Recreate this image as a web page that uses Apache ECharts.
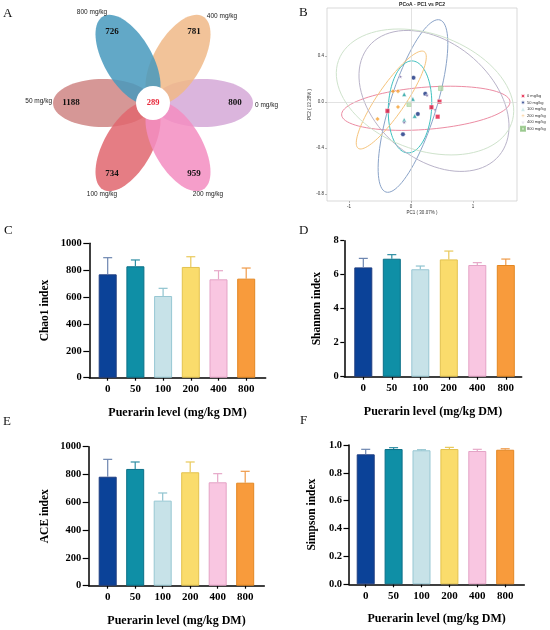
<!DOCTYPE html>
<html lang="en">
<head>
<meta charset="UTF-8">
<title>Puerarin level - diversity</title>
<script src="https://cdn.jsdelivr.net/npm/echarts@6/dist/echarts.min.js"></script>
<style>
    html, body { margin: 0; padding: 0; background: #fff; }
    #main { width: 550px; height: 630px; }
</style>
</head>
<body>
<div id="main"></div>
<script>
    // ---------- data ----------
    var levels = ['0', '50', '100', '200', '400', '800'];
    var groupNames = ['0 mg/kg', '50 mg/kg', '100 mg/kg', '200 mg/kg', '400 mg/kg', '800 mg/kg'];

    // flower diagram (A): unique OTUs per group and the shared core
    var petalAngles = [0, 180, 120, 60, -60, -120];
    var petalCounts = [800, 1188, 734, 959, 781, 726];
    var coreCount = 289;

    // alpha diversity (C-F): mean and sd per level
    var chaoMean = [769, 829, 608, 824, 732, 737];
    var chaoSd = [124, 47, 57, 76, 64, 79];
    var shannonMean = [6.43, 6.94, 6.32, 6.90, 6.57, 6.57];
    var shannonSd = [0.53, 0.24, 0.19, 0.49, 0.14, 0.35];
    var aceMean = [784, 840, 612, 816, 744, 741];
    var aceSd = [125, 50, 55, 74, 62, 82];
    var simpsonMean = [0.933, 0.971, 0.962, 0.971, 0.957, 0.966];
    var simpsonSd = [0.036, 0.010, 0.004, 0.012, 0.012, 0.007];

    // PCoA (B): sample scores [PC1, PC2]
    var pcoa0 = [[-0.38, -0.078], [0.33, -0.046], [0.46, 0.003], [0.43, -0.128]];
    var pcoa50 = [[0.04, 0.211], [0.23, 0.072], [0.11, -0.104], [-0.13, -0.281]];
    var pcoa100 = [[-0.11, 0.067], [0.03, 0.026], [0.06, -0.122], [-0.11, -0.157]];
    var pcoa200 = [[-0.29, 0.093], [-0.21, 0.093], [-0.21, -0.043], [-0.54, -0.148]];
    var pcoa400 = [[-0.17, 0.22], [0.26, 0.058], [0.39, -0.067], [-0.11, -0.177]];
    var pcoa800 = [[0.48, 0.119], [-0.03, -0.02]];
    // confidence ellipses: centre, first and second conjugate half axes
    var ellipseCenter = [[0.239, -0.055], [0.032, -0.035], [-0.016, -0.043], [-0.318, 0.017], [0.371, 0.009], [0.226, 0.087]];
    var ellipseAxis1 = [[1.358, 0.058], [0.436, 0.748], [0.03, 0.40], [0.533, 0.42], [1.05, -0.476], [1.395, -0.274]];
    var ellipseAxis2 = [[-0.026, 0.183], [0.355, -0.06], [0.35, 0], [0.187, -0.069], [0.602, 0.386], [0.319, 0.474]];
    var pcoaTicksX = [-1, 0, 1];
    var pcoaTicksY = [-0.8, -0.4, 0, 0.4];

    // ---------- styles ----------
    var serif = "'Liberation Serif', 'Times New Roman', serif";
    var sans = "'Liberation Sans', Arial, sans-serif";
    var petalColors = ['#d5a8d7', '#cf8584', '#e0666f', '#f38dc1', '#f0b987', '#4799bd'];
    var barFill = ['#0b4298', '#0f8fa6', '#c7e2e8', '#fadc6c', '#f9c6e1', '#f89b3c'];
    var barEdge = ['#1f3d80', '#0b7088', '#97c7d3', '#e3c24e', '#e4a3c6', '#e38722'];
    var errColor = ['#6d86b0', '#2e8ea3', '#8fc3cf', '#e9c95a', '#e6a8c8', '#ef9a48'];
    var pointColors = ['#e3173e', '#15307f', '#1a9e9e', '#f5a030', '#6a5a9a', '#b9dcae'];
    var pointSymbols = ['rect', 'circle', 'triangle', 'diamond',
        'path://M50,0L61,35L98,35L68,57L79,91L50,70L21,91L32,57L2,35L39,35Z', 'rect'];
    var ellipseColors = ['#ec8ca3', '#8aa3c8', '#3fc1c0', '#f6c47c', '#b9b3c9', '#cfe3cc'];

    var chart = echarts.init(document.getElementById('main'));

    var grids = [], xAxes = [], yAxes = [], series = [];

    // ---------- A: flower ----------
    var flowerCx = 153, flowerCy = 103, petalA = 50, petalB = 24;
    var nameAnchor = [[102, 2, 'left'], [-101, -2, 'right'], [-51, 91, 'center'],
        [55, 91, 'center'], [69, -87, 'center'], [-61, -91, 'center']];

    series.push({
        type: 'custom',
        coordinateSystem: 'none',
        silent: true,
        data: petalAngles.map(function (a, i) { return [a, petalCounts[i]]; }),
        renderItem: function (params, api) {
            var ang = api.value(0) * Math.PI / 180;
            var pts = [];
            for (var k = 0; k <= 72; k++) {
                var t = k / 72 * 2 * Math.PI;
                var u = petalA * (1 + Math.cos(t)), v = petalB * Math.sin(t);
                pts.push([flowerCx + u * Math.cos(ang) - v * Math.sin(ang),
                    flowerCy + u * Math.sin(ang) + v * Math.cos(ang)]);
            }
            return { type: 'polygon', shape: { points: pts },
                style: { fill: petalColors[params.dataIndex], opacity: 0.85 } };
        }
    });
    series.push({
        type: 'custom',
        coordinateSystem: 'none',
        silent: true,
        z: 3,
        data: petalAngles.map(function (a, i) { return [a, petalCounts[i]]; }),
        renderItem: function (params, api) {
            var ang = api.value(0) * Math.PI / 180;
            var an = nameAnchor[params.dataIndex];
            return { type: 'group', children: [
                { type: 'text', style: { text: String(api.value(1)),
                    x: flowerCx + 82 * Math.cos(ang), y: flowerCy + 82 * Math.sin(ang),
                    align: 'center', verticalAlign: 'middle',
                    font: 'bold 9px ' + serif, fill: '#111' } },
                { type: 'text', style: { text: groupNames[params.dataIndex],
                    x: flowerCx + an[0], y: flowerCy + an[1],
                    align: an[2], verticalAlign: 'middle',
                    font: '6.5px ' + sans, fill: '#222' } }
            ] };
        }
    });
    series.push({
        type: 'custom',
        coordinateSystem: 'none',
        silent: true,
        z: 4,
        data: [[coreCount]],
        renderItem: function (params, api) {
            return { type: 'group', children: [
                { type: 'circle', shape: { cx: flowerCx, cy: flowerCy, r: 17 }, style: { fill: '#fff' } },
                { type: 'text', style: { text: String(api.value(0)), x: flowerCx, y: flowerCy,
                    align: 'center', verticalAlign: 'middle', font: 'bold 8.5px ' + serif, fill: '#e8283a' } }
            ] };
        }
    });

    // ---------- B: PCoA ----------
    grids.push({ left: 327, top: 8, width: 190, height: 193, show: true,
        borderColor: '#cfcfcf', borderWidth: 0.8, backgroundColor: '#fff' });
    xAxes.push({
        gridIndex: 0, type: 'value', min: -1.355, max: 1.71,
        name: 'PC1 ( 30.07% )', nameLocation: 'middle', nameGap: 9,
        nameTextStyle: { fontSize: 4.5, color: '#333', fontFamily: sans },
        axisLine: { show: false, onZero: false },
        axisTick: { show: true, customValues: pcoaTicksX, length: 2, lineStyle: { color: '#888', width: 0.6 } },
        axisLabel: { customValues: pcoaTicksX, fontSize: 4.5, color: '#333', margin: 3, fontFamily: sans },
        splitLine: { show: false }
    });
    yAxes.push({
        gridIndex: 0, type: 'value', min: -0.861, max: 0.817,
        name: 'PC2 ( 13.28% )', nameLocation: 'middle', nameGap: 12,
        nameTextStyle: { fontSize: 4.5, color: '#333', fontFamily: sans },
        axisLine: { show: false, onZero: false },
        axisTick: { show: true, customValues: pcoaTicksY, length: 2, lineStyle: { color: '#888', width: 0.6 } },
        axisLabel: { customValues: pcoaTicksY, fontSize: 4.5, color: '#333', margin: 3, fontFamily: sans,
            formatter: function (v) { return v.toFixed(1); } },
        splitLine: { show: false }
    });
    series.push({
        type: 'custom', name: 'ellipses', xAxisIndex: 0, yAxisIndex: 0, silent: true, z: 2,
        data: ellipseCenter.map(function (c, i) {
            return [c[0], c[1], ellipseAxis1[i][0], ellipseAxis1[i][1], ellipseAxis2[i][0], ellipseAxis2[i][1]];
        }),
        renderItem: function (params, api) {
            var pts = [];
            for (var k = 0; k <= 90; k++) {
                var t = k / 90 * 2 * Math.PI;
                pts.push(api.coord([
                    api.value(0) + api.value(2) * Math.cos(t) + api.value(4) * Math.sin(t),
                    api.value(1) + api.value(3) * Math.cos(t) + api.value(5) * Math.sin(t)]));
            }
            return { type: 'polyline', shape: { points: pts },
                style: { fill: 'none', stroke: ellipseColors[params.dataIndex], lineWidth: 1 } };
        },
        markLine: {
            silent: true, symbol: 'none', label: { show: false },
            lineStyle: { color: '#d6d6d6', width: 0.7, type: 'solid' },
            data: [{ xAxis: 0 }, { yAxis: 0 }]
        }
    });
    [pcoa0, pcoa50, pcoa100, pcoa200, pcoa400, pcoa800].forEach(function (pts, i) {
        series.push({
            type: 'scatter', name: groupNames[i], xAxisIndex: 0, yAxisIndex: 0, z: 3,
            data: pts, symbol: pointSymbols[i], symbolSize: i === 4 ? 4 : 4.5,
            itemStyle: { color: pointColors[i], borderColor: i === 5 ? '#8cc07f' : '#fff', borderWidth: 0.5 }
        });
    });

    // ---------- C-F: bars ----------
    var barPanels = [
        { mean: chaoMean, sd: chaoSd, name: 'Chao1 index', max: 1000, step: 200, digits: 0,
            left: 89.3, top: 243.3, width: 176.4, height: 134.4, xMin: -0.664, xMax: 5.704, nameGap: 38, tick: 6 },
        { mean: shannonMean, sd: shannonSd, name: 'Shannon index', max: 8, step: 2, digits: 0,
            left: 344.3, top: 240.7, width: 177.4, height: 136, xMin: -0.667, xMax: 5.558, nameGap: 21, tick: 4 },
        { mean: aceMean, sd: aceSd, name: 'ACE index', max: 1000, step: 200, digits: 0,
            left: 88.7, top: 446.7, width: 175.6, height: 139, xMin: -0.691, xMax: 5.695, nameGap: 38, tick: 6 },
        { mean: simpsonMean, sd: simpsonSd, name: 'Simpson index', max: 1, step: 0.2, digits: 1,
            left: 349, top: 445, width: 175.3, height: 139.3, xMin: -0.599, xMax: 5.685, nameGap: 31, tick: 5.5 }
    ];
    var catIdx = levels.map(function (l, i) { return i; });

    barPanels.forEach(function (p, n) {
        var g = n + 1;
        grids.push({ left: p.left, top: p.top, width: p.width, height: p.height });
        xAxes.push({
            gridIndex: g, type: 'value', min: p.xMin, max: p.xMax,
            name: 'Puerarin level (mg/kg DM)', nameLocation: 'middle', nameGap: 29,
            nameTextStyle: { fontFamily: serif, fontWeight: 'bold', fontSize: 12, color: '#000' },
            axisLine: { show: true, onZero: false, lineStyle: { color: '#000', width: 1.5 } },
            axisTick: { show: true, customValues: catIdx, length: 3, lineStyle: { color: '#000', width: 1.2 } },
            axisLabel: { customValues: catIdx, margin: 6, fontFamily: serif, fontWeight: 'bold', fontSize: 11, color: '#000',
                formatter: function (v) { return levels[Math.round(v)]; } },
            splitLine: { show: false }
        });
        yAxes.push({
            gridIndex: g, type: 'value', min: 0, max: p.max, interval: p.step,
            name: p.name, nameLocation: 'middle', nameGap: p.nameGap,
            nameTextStyle: { fontFamily: serif, fontWeight: 'bold', fontSize: 11.5, color: '#000' },
            axisLine: { show: true, onZero: false, lineStyle: { color: '#000', width: 1.5 } },
            axisTick: { show: true, length: p.tick, lineStyle: { color: '#000', width: 1.2 } },
            axisLabel: { margin: p.tick + 1.5, fontFamily: serif, fontWeight: 'bold', fontSize: 10.5, color: '#000',
                formatter: function (v) { return v.toFixed(p.digits); } },
            splitLine: { show: false }
        });
        series.push({
            type: 'bar', xAxisIndex: g, yAxisIndex: g, barWidth: 18, silent: true, z: 2,
            data: p.mean.map(function (v, i) {
                return { value: [i, v], itemStyle: { color: barFill[i], borderColor: barEdge[i], borderWidth: 1 } };
            })
        });
        series.push({
            type: 'custom', xAxisIndex: g, yAxisIndex: g, silent: true, z: 3,
            data: p.mean.map(function (v, i) { return [i, v, v + p.sd[i]]; }),
            renderItem: function (params, api) {
                var base = api.coord([api.value(0), api.value(1)]);
                var top = api.coord([api.value(0), api.value(2)]);
                var c = errColor[params.dataIndex];
                return { type: 'group', children: [
                    { type: 'line', shape: { x1: base[0], y1: base[1], x2: top[0], y2: top[1] },
                        style: { stroke: c, lineWidth: 1.2 } },
                    { type: 'line', shape: { x1: top[0] - 4.5, y1: top[1], x2: top[0] + 4.5, y2: top[1] },
                        style: { stroke: c, lineWidth: 1.2 } }
                ] };
            }
        });
    });

    function letter(t, x, y) {
        return { text: t, left: x, top: y, padding: 0,
            textStyle: { fontFamily: serif, fontWeight: 'normal', fontSize: 13, color: '#111' } };
    }

    var option = {
        animation: false,
        backgroundColor: '#fff',
        title: [
            letter('A', 3, 7), letter('B', 299, 6), letter('C', 4, 224),
            letter('D', 299, 224), letter('E', 3, 415), letter('F', 300, 414),
            { text: 'PCoA - PC1 vs PC2', left: 422, top: 2, textAlign: 'center', padding: 0,
                textStyle: { fontFamily: sans, fontWeight: 'bold', fontSize: 5, color: '#222' } }
        ],
        legend: {
            data: groupNames, orient: 'vertical', left: 520, top: 93, padding: 0,
            itemWidth: 4, itemHeight: 4, itemGap: 0.6, selectedMode: false,
            textStyle: { fontSize: 4, color: '#333', fontFamily: sans, padding: [0, 0, 0, -3] }
        },
        grid: grids,
        xAxis: xAxes,
        yAxis: yAxes,
        series: series
    };
    chart.setOption(option);
</script>
</body>
</html>
